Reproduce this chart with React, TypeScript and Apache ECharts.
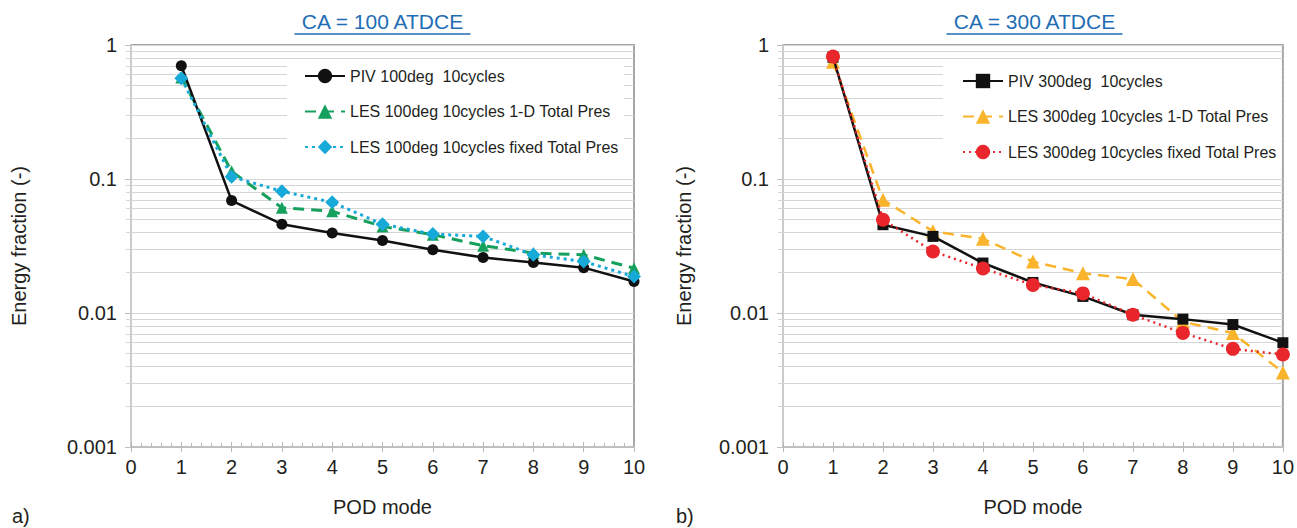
import React, { useEffect, useRef } from "react";
import * as echarts from "echarts";

const modes = [1, 2, 3, 4, 5, 6, 7, 8, 9, 10];
const xTickLabels = ["0", "1", "2", "3", "4", "5", "6", "7", "8", "9", "10"];
const yTickLabels: Record<string, string> = { "0.001": "0.001", "0.01": "0.01", "0.1": "0.1", "1": "1" };

const piv100 = [0.70, 0.069, 0.046, 0.0395, 0.0348, 0.0296, 0.026, 0.0238, 0.0218, 0.0172];
const les100OneD = [0.573, 0.114, 0.061, 0.0574, 0.0443, 0.0384, 0.0318, 0.028, 0.0272, 0.0216];
const les100Fixed = [0.565, 0.104, 0.081, 0.067, 0.046, 0.0388, 0.0373, 0.0272, 0.0242, 0.0187];

const piv300 = [0.81, 0.0456, 0.0373, 0.0236, 0.0169, 0.0133, 0.0097, 0.009, 0.0082, 0.006];
const les300OneD = [0.75, 0.07, 0.0407, 0.0358, 0.0242, 0.0198, 0.0179, 0.0086, 0.0071, 0.0036];
const les300Fixed = [0.82, 0.0497, 0.0288, 0.0215, 0.0162, 0.014, 0.0097, 0.0071, 0.0054, 0.0049];

const names100 = ["PIV 100deg  10cycles", "LES 100deg 10cycles 1-D Total Pres", "LES 100deg 10cycles fixed Total Pres"];
const names300 = ["PIV 300deg  10cycles", "LES 300deg 10cycles 1-D Total Pres", "LES 300deg 10cycles fixed Total Pres"];
const titles = ["CA = 100 ATDCE", "CA = 300 ATDCE"];
const panelLabels = ["a)", "b)"];
const xName = "POD mode";
const yName = "Energy fraction (-)";

const FONT = "'Liberation Sans', Arial, Helvetica, sans-serif";
const TXT = "#231f20";
const GRIDC = "#d5d5d5";

const minorGrid: number[] = [];
[0.001, 0.01, 0.1].forEach((d) => {
  for (let k = 2; k <= 9; k++) minorGrid.push(+(d * k).toPrecision(3));
});

const gridLefts = [131, 783];
const GTOP = 45;
const GW = 503;
const GH = 402;

function pts(arr: number[]) {
  return modes.map((m, i) => [m, arr[i]]);
}

export default function App() {
  const ref = useRef<HTMLDivElement>(null);
  useEffect(() => {
    const chart = echarts.init(ref.current!, null, { renderer: "svg" });

    const grids = gridLefts.map((l) => ({
      left: l, top: GTOP, width: GW, height: GH,
      show: true, borderColor: "#a5a5a5", borderWidth: 2, backgroundColor: "transparent",
    }));

    const xAxes: any[] = [];
    const yAxes: any[] = [];
    [0, 1].forEach((gi) => {
      xAxes.push({
        gridIndex: gi, type: "value", min: 0, max: 10, interval: 1, position: "bottom",
        axisLine: { show: true, lineStyle: { color: "#c0c0c0", width: 2 } },
        axisTick: { show: true, inside: false, length: 5, lineStyle: { color: "#b8b8b8", width: 1 } },
        axisLabel: {
          margin: 10, fontSize: 20, color: TXT, fontFamily: FONT,
          formatter: (v: number) => xTickLabels[Math.round(v)],
        },
        splitLine: { show: false },
        name: xName, nameLocation: "middle", nameGap: 50,
        nameTextStyle: { fontSize: 20, color: TXT, fontFamily: FONT },
      });
      xAxes.push({
        gridIndex: gi, type: "value", min: 0, max: 10, interval: 1, position: "bottom",
        axisLine: { show: false },
        axisTick: { show: true, inside: true, length: 5, lineStyle: { color: "#b8b8b8", width: 1 } },
        minorTick: { show: true, splitNumber: 5, length: 4, lineStyle: { color: "#b8b8b8", width: 1 } },
        axisLabel: { show: false },
        splitLine: { show: false },
      });
      yAxes.push({
        gridIndex: gi, type: "log", logBase: 10, min: 0.001, max: 1,
        axisLine: { show: true, lineStyle: { color: "#cbcbcb", width: 2 } },
        axisTick: { show: true, length: 6, lineStyle: { color: "#c0c0c0", width: 1 } },
        axisLabel: {
          margin: 14, fontSize: 20, color: TXT, fontFamily: FONT,
          formatter: (v: number) => yTickLabels[String(+v.toPrecision(3))] ?? "",
        },
        splitLine: { show: true, lineStyle: { color: GRIDC, width: 1.2 } },
        name: yName, nameLocation: "middle", nameGap: gi === 0 ? 102 : 89,
        nameTextStyle: { fontSize: 20, color: TXT, fontFamily: FONT },
      });
    });

    const gridMark = (gi: number) => ({
      silent: true, z: 1, symbol: ["none", "none"], label: { show: false },
      lineStyle: { color: GRIDC, width: 1.2, type: "solid" },
      emphasis: { disabled: true },
      data: minorGrid.map((v) => [
        { xAxis: 0, yAxis: v, x: gridLefts[gi] - 5 },
        { xAxis: 10, yAxis: v },
      ]),
    });

    const mk = (gi: number, name: string, arr: number[], color: string, symbol: string, size: number,
      width: number, type: any, withGrid: boolean, z: number) => ({
      type: "line", name, xAxisIndex: gi * 2, yAxisIndex: gi, data: pts(arr),
      symbol, symbolSize: size, clip: false, z,
      lineStyle: { color, width, type },
      itemStyle: { color },
      emphasis: { disabled: true },
      markLine: withGrid ? gridMark(gi) : undefined,
    });

    const series = [
      mk(0, names100[0], piv100, "#111111", "circle", 11, 2.5, "solid", true, 5),
      mk(0, names100[1], les100OneD, "#16a05d", "triangle", 12, 3, [11, 7], false, 4),
      mk(0, names100[2], les100Fixed, "#17a9d8", "diamond", 14, 3, [3, 4], false, 6),
      mk(1, names300[0], piv300, "#111111", "rect", 11, 2.5, "solid", true, 5),
      mk(1, names300[1], les300OneD, "#f9b42b", "triangle", 14, 2.5, [11, 7], false, 4),
      mk(1, names300[2], les300Fixed, "#e8262b", "circle", 14, 2.5, [2, 4], false, 6),
    ];

    const legendBase = {
      orient: "vertical", backgroundColor: "#ffffff", itemWidth: 40, itemHeight: 18, itemGap: 19.5,
      textStyle: { fontSize: 16, color: TXT, fontFamily: FONT },
      selectedMode: false, z: 4,
    };

    const graphics: any[] = [];
    [0, 1].forEach((gi) => {
      const cx = gridLefts[gi] + GW / 2;
      graphics.push({
        type: "text", x: cx, y: 21,
        style: { text: titles[gi], fill: "#1f6db5", font: `21px ${FONT}`, textAlign: "center", textVerticalAlign: "middle" },
      });
      graphics.push({
        type: "line", shape: { x1: cx - 88, y1: 34, x2: cx + 88, y2: 34 },
        style: { stroke: "#1f6db5", lineWidth: 1.5 },
      });
      graphics.push({
        type: "text", x: gi === 0 ? 12 : 676, y: 516,
        style: { text: panelLabels[gi], fill: TXT, font: `20px ${FONT}`, textAlign: "left", textVerticalAlign: "middle" },
      });
    });

    chart.setOption({
      animation: false,
      backgroundColor: "#ffffff",
      grid: grids,
      xAxis: xAxes,
      yAxis: yAxes,
      legend: [
        { ...legendBase, data: names100, left: 287, top: 62, padding: [6, 5, 8, 17] },
        { ...legendBase, data: names300, left: 943, top: 63, padding: [10, 5, 8, 19] },
      ],
      series,
      graphic: graphics,
    });
    return () => chart.dispose();
  }, []);
  return <div ref={ref} style={{ position: "fixed", left: 0, top: 0, width: 1297, height: 528 }} />;
}
